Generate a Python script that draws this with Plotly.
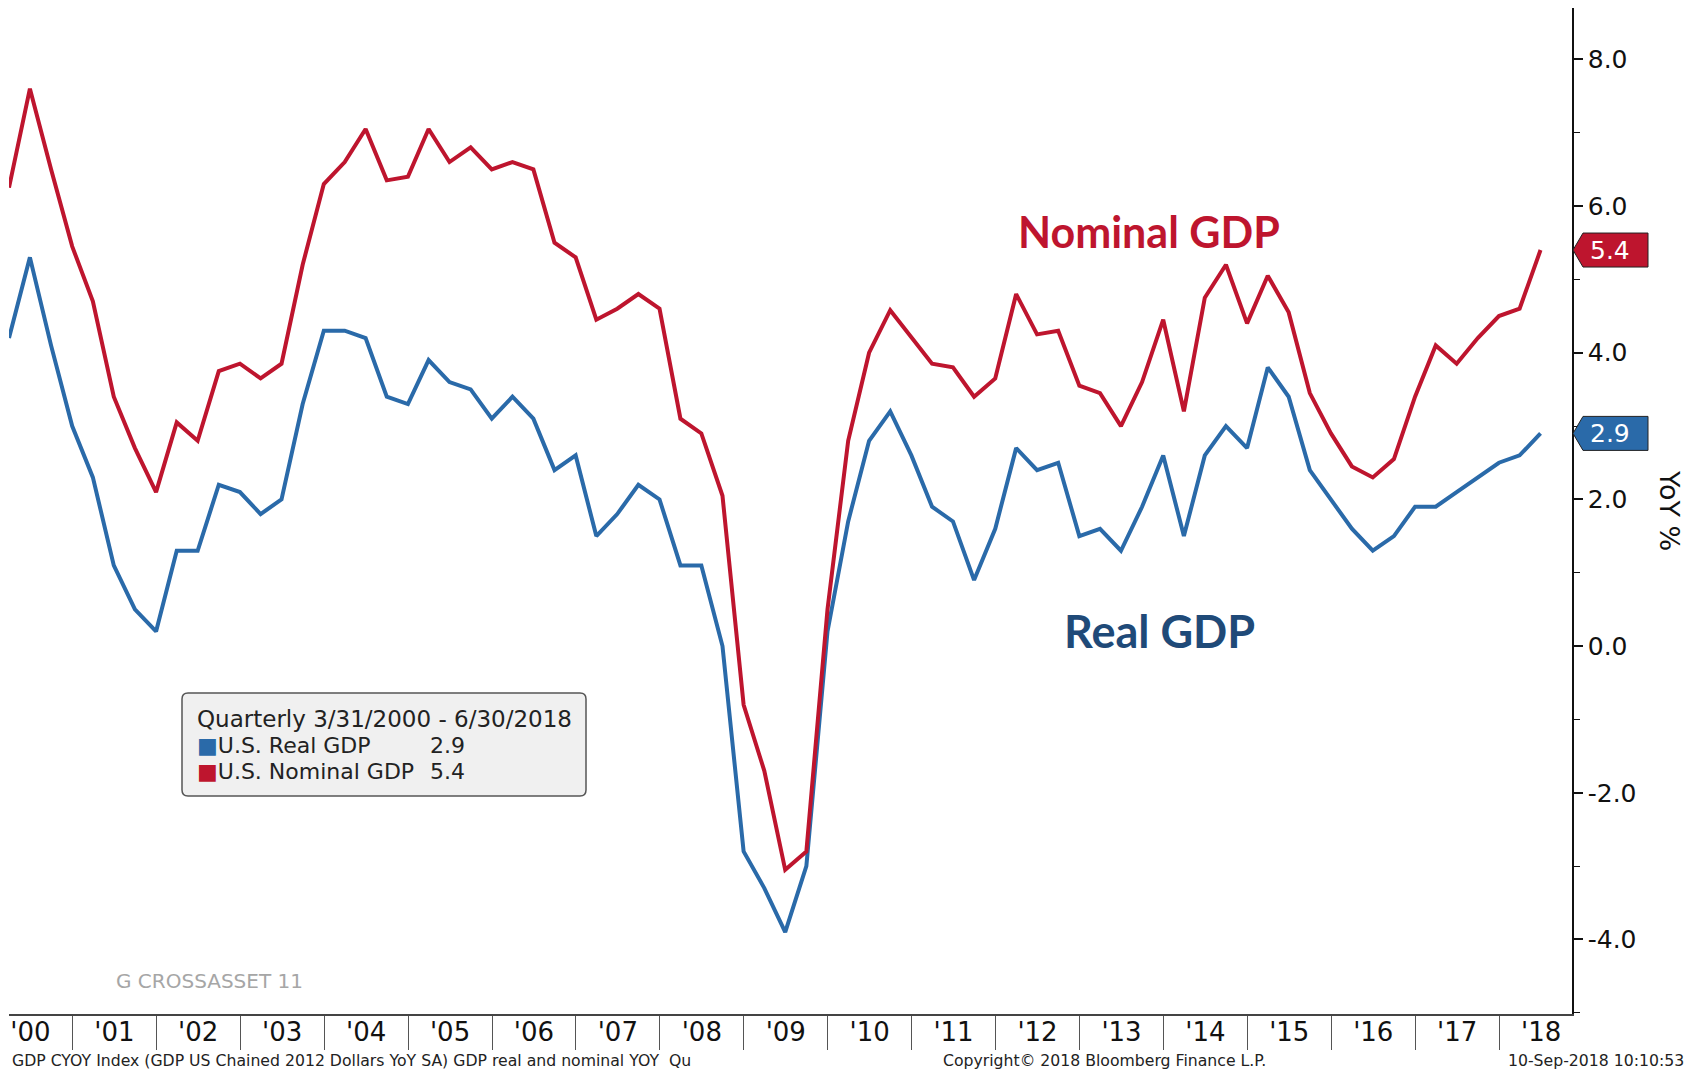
import pandas as pd
import plotly.graph_objects as go

# ---------------- data (YoY %, quarterly, 3/31/2000 - 6/30/2018) ----------------
real_gdp = [4.2, 5.3, 4.1, 3.0,
            2.3, 1.1, 0.5, 0.2,
            1.3, 1.3, 2.2, 2.1,
            1.8, 2.0, 3.3, 4.3,
            4.3, 4.2, 3.4, 3.3,
            3.9, 3.6, 3.5, 3.1,
            3.4, 3.1, 2.4, 2.6,
            1.5, 1.8, 2.2, 2.0,
            1.1, 1.1, 0.0, -2.8,
            -3.3, -3.9, -3.0, 0.2,
            1.7, 2.8, 3.2, 2.6,
            1.9, 1.7, 0.9, 1.6,
            2.7, 2.4, 2.5, 1.5,
            1.6, 1.3, 1.9, 2.6,
            1.5, 2.6, 3.0, 2.7,
            3.8, 3.4, 2.4, 2.0,
            1.6, 1.3, 1.5, 1.9,
            1.9, 2.1, 2.3, 2.5,
            2.6, 2.9]

nominal_gdp = [6.25, 7.6, 6.5, 5.45,
               4.7, 3.4, 2.7, 2.1,
               3.05, 2.8, 3.75, 3.85,
               3.65, 3.85, 5.2, 6.3,
               6.6, 7.05, 6.35, 6.4,
               7.05, 6.6, 6.8, 6.5,
               6.6, 6.5, 5.5, 5.3,
               4.45, 4.6, 4.8, 4.6,
               3.1, 2.9, 2.05, -0.8,
               -1.7, -3.05, -2.8, 0.5,
               2.8, 4.0, 4.58, 4.2,
               3.85, 3.8, 3.4, 3.65,
               4.8, 4.25, 4.3, 3.55,
               3.45, 3.0, 3.6, 4.45,
               3.2, 4.75, 5.2, 4.4,
               5.05, 4.55, 3.45, 2.9,
               2.45, 2.3, 2.55, 3.4,
               4.1, 3.85, 4.2, 4.5,
               4.6, 5.4]

try:
    dates = pd.date_range("2000-03-31", periods=len(real_gdp), freq="QE")
except Exception:
    dates = pd.date_range("2000-03-31", periods=len(real_gdp), freq="Q")

y_ticks = [-4, -2, 0, 2, 4, 6, 8]
y_tick_text = [f"{v:.1f}" for v in y_ticks]
y_minor = [-5, -3, -1, 1, 3, 5, 7]

# ---------------- styling ----------------
BLUE = "#2A6AA9"
RED = "#BE152E"
NAVY = "#1F4A78"
FONT = "DejaVu Sans"

W, H = 1694, 1071
PL, PR, PT, PB = 9, 1572, 8, 1014
Y_RANGE = [-5.016, 8.70]


def px_x(px):
    return (px - PL) / (PR - PL)


def px_y(py):
    return (PB - py) / (PB - PT)


units_per_px = (Y_RANGE[1] - Y_RANGE[0]) / (PB - PT)

fig = go.Figure()
fig.add_trace(go.Scatter(x=dates, y=real_gdp, mode="lines", name="U.S. Real GDP",
                         line=dict(color=BLUE, width=4), showlegend=False,
                         hoverinfo="x+y"))
fig.add_trace(go.Scatter(x=dates, y=nominal_gdp, mode="lines", name="U.S. Nominal GDP",
                         line=dict(color=RED, width=4), showlegend=False,
                         hoverinfo="x+y"))

shapes = []
annotations = []

# value flags on right axis
for series, color in ((nominal_gdp, RED), (real_gdp, BLUE)):
    v = series[-1]
    h = 17 * units_per_px
    tip, bl, br = px_x(1573), px_x(1583), px_x(1648)
    shapes.append(dict(
        type="path", xref="paper", yref="y",
        path=f"M {tip},{v} L {bl},{v + h} L {br},{v + h} L {br},{v - h} L {bl},{v - h} Z",
        fillcolor=color, line=dict(color="#222222", width=1), layer="above"))
    annotations.append(dict(
        xref="paper", yref="y", x=px_x(1610), y=v, text=f"{v:.1f}",
        showarrow=False, xanchor="center", yanchor="middle",
        font=dict(family=FONT, size=25, color="white")))

# legend box (rounded corners)
bx0, bx1, by0, by1, r = 182, 586, 693, 796, 6
X0, X1 = px_x(bx0), px_x(bx1)
Xa, Xb = px_x(bx0 + r), px_x(bx1 - r)
Y0, Y1 = px_y(by0), px_y(by1)
Ya, Yb = px_y(by0 + r), px_y(by1 - r)
box_path = (f"M {Xa},{Y0} L {Xb},{Y0} Q {X1},{Y0} {X1},{Ya} L {X1},{Yb} "
            f"Q {X1},{Y1} {Xb},{Y1} L {Xa},{Y1} Q {X0},{Y1} {X0},{Yb} "
            f"L {X0},{Ya} Q {X0},{Y0} {Xa},{Y0} Z")
shapes.append(dict(type="path", xref="paper", yref="paper", path=box_path,
                   fillcolor="#F0F0F0", line=dict(color="#555555", width=1.5),
                   layer="above"))
leg_font = dict(family=FONT, size=22, color="#222222")
annotations += [
    dict(xref="paper", yref="paper", x=px_x(195), y=px_y(719),
         text="Quarterly 3/31/2000 - 6/30/2018", showarrow=False,
         xanchor="left", yanchor="middle", font=dict(leg_font, size=23)),
    dict(xref="paper", yref="paper", x=px_x(195), y=px_y(745),
         text=f"<span style='color:{BLUE}'>■</span>U.S. Real GDP", showarrow=False,
         xanchor="left", yanchor="middle", font=leg_font),
    dict(xref="paper", yref="paper", x=px_x(428), y=px_y(745),
         text=f"{real_gdp[-1]:.1f}", showarrow=False,
         xanchor="left", yanchor="middle", font=leg_font),
    dict(xref="paper", yref="paper", x=px_x(195), y=px_y(771),
         text=f"<span style='color:{RED}'>■</span>U.S. Nominal GDP", showarrow=False,
         xanchor="left", yanchor="middle", font=leg_font),
    dict(xref="paper", yref="paper", x=px_x(428), y=px_y(771),
         text=f"{nominal_gdp[-1]:.1f}", showarrow=False,
         xanchor="left", yanchor="middle", font=leg_font),
]

# series labels and other texts
foot_font = dict(family=FONT, size=15.7, color="#222222")
annotations += [
    dict(xref="paper", yref="paper", x=px_x(1149), y=px_y(232), text="Nominal GDP",
         showarrow=False, xanchor="center", yanchor="middle",
         font=dict(family="Lato", size=43, color=RED, weight="bold")),
    dict(xref="paper", yref="paper", x=px_x(1159), y=px_y(631), text="Real GDP",
         showarrow=False, xanchor="center", yanchor="middle",
         font=dict(family="Lato", size=45, color=NAVY, weight="bold")),
    dict(xref="paper", yref="paper", x=px_x(1670), y=px_y(510), text="YoY %",
         showarrow=False, textangle=90, xanchor="center", yanchor="middle",
         font=dict(family=FONT, size=27, color="#111111")),
    dict(xref="paper", yref="paper", x=px_x(114), y=px_y(981), text="G CROSSASSET 11",
         showarrow=False, xanchor="left", yanchor="middle",
         font=dict(family=FONT, size=20, color="#A6A6A6")),
    dict(xref="paper", yref="paper", x=px_x(10), y=px_y(1060),
         text="GDP CYOY Index (GDP US Chained 2012 Dollars YoY SA) GDP real and nominal YOY  Qu",
         showarrow=False, xanchor="left", yanchor="middle", font=foot_font),
    dict(xref="paper", yref="paper", x=px_x(1104), y=px_y(1060),
         text="Copyright© 2018 Bloomberg Finance L.P.",
         showarrow=False, xanchor="center", yanchor="middle", font=foot_font),
    dict(xref="paper", yref="paper", x=px_x(1686), y=px_y(1060),
         text="10-Sep-2018 10:10:53",
         showarrow=False, xanchor="right", yanchor="middle", font=foot_font),
]

fig.update_layout(
    width=W, height=H,
    margin=dict(l=PL, r=W - PR, t=PT, b=H - PB),
    paper_bgcolor="white", plot_bgcolor="white",
    showlegend=False,
    shapes=shapes, annotations=annotations,
    xaxis=dict(
        type="date", range=["2000-03-31", "2018-11-14"],
        tick0="2000-01-01", dtick="M12", ticklabelmode="period", tickformat="'%y",
        ticks="outside", ticklen=34, tickwidth=1, tickcolor="#555555",
        ticklabelstandoff=-40,
        showline=True, linecolor="#444444", linewidth=2,
        showgrid=False, zeroline=False,
        tickfont=dict(family=FONT, size=26, color="#111111"),
    ),
    yaxis=dict(
        side="right", range=Y_RANGE,
        tickvals=y_ticks, ticktext=y_tick_text,
        ticks="outside", ticklen=9, tickwidth=2, tickcolor="#111111",
        minor=dict(tickvals=y_minor, ticks="outside", ticklen=6, tickwidth=1,
                   tickcolor="#111111"),
        showline=True, linecolor="#111111", linewidth=1.5,
        showgrid=False, zeroline=False,
        tickfont=dict(family=FONT, size=25, color="#111111"),
    ),
)

fig.write_html("out.html",
               config={"displayModeBar": False},
               post_script=["document.body.style.margin='0px';"
                            "document.body.style.overflow='hidden';"])
